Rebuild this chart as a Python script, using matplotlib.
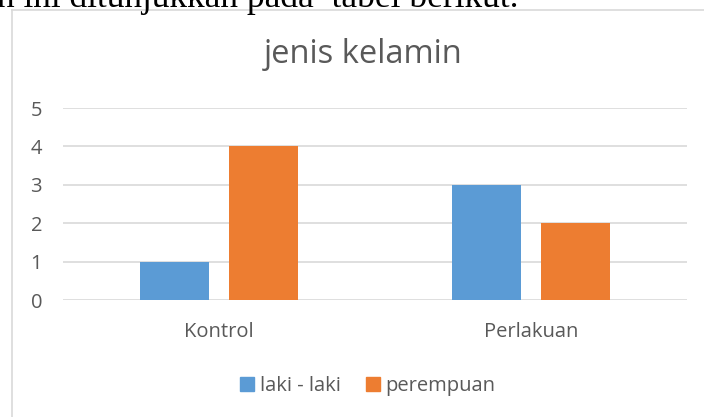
import numpy as np
import matplotlib
matplotlib.use("Agg")
import matplotlib.pyplot as plt
from matplotlib.patches import Patch
from matplotlib.lines import Line2D

categories = ["Kontrol", "Perlakuan"]
laki = [1, 3]
perempuan = [4, 2]
yticks = [0, 1, 2, 3, 4, 5]

W, H = 704, 417
plt.rcParams['font.family'] = ['Open Sans', 'DejaVu Sans']
gray = '#595959'

fig = plt.figure(figsize=(W / 100, H / 100), dpi=100)

# cropped document line at the top
fig.text(-3 / W, 1 - 7 / H, "n ini ditunjukkan pada  tabel berikut.", family='Liberation Serif',
         fontsize=25.5, color='black', va='baseline', ha='left')

# chart frame (left and top edges visible)
fig.add_artist(Line2D([12 / W, 12 / W], [0, 1 - 10 / H], transform=fig.transFigure, color='#d9d9d9', lw=1.2))
fig.add_artist(Line2D([12 / W, 1], [1 - 10 / H, 1 - 10 / H], transform=fig.transFigure, color='#d9d9d9', lw=1.2))

ax = fig.add_axes([63 / W, (H - 300) / H, 624 / W, 192 / H])
x = np.arange(len(categories))
w = 0.223
off = 0.142
ax.bar(x - off, laki, w, color='#5B9BD5', zorder=3, label='laki - laki')
ax.bar(x + off, perempuan, w, color='#ED7D31', zorder=3, label='perempuan')

ax.set_xlim(-0.5, 1.5)
ax.set_ylim(0, 5)
ax.set_yticks(yticks)
ax.set_xticks(x)
ax.set_xticklabels(categories)
ax.grid(axis='y', color='#d9d9d9', lw=1.2, zorder=0)
for s in ax.spines.values():
    s.set_visible(False)
ax.tick_params(axis='y', length=0, pad=15, labelsize=14.5, labelcolor=gray)
ax.tick_params(axis='x', length=0, pad=16, labelsize=14.5, labelcolor=gray)

fig.text(363.5 / W, 1 - 63 / H, "jenis kelamin", fontsize=23.5, color=gray, ha='center', va='baseline')

handles = [Patch(color='#5B9BD5'), Patch(color='#ED7D31')]
leg = fig.legend(handles, ['laki - laki', 'perempuan'], loc='center', bbox_to_anchor=(368 / W, (H - 386) / H),
                 ncol=2, frameon=False, fontsize=14.5, handlelength=0.7, handleheight=0.65,
                 handletextpad=0.3, columnspacing=1.2, borderpad=0)
for t in leg.get_texts():
    t.set_color(gray)

fig.savefig("out.png", dpi=100)
